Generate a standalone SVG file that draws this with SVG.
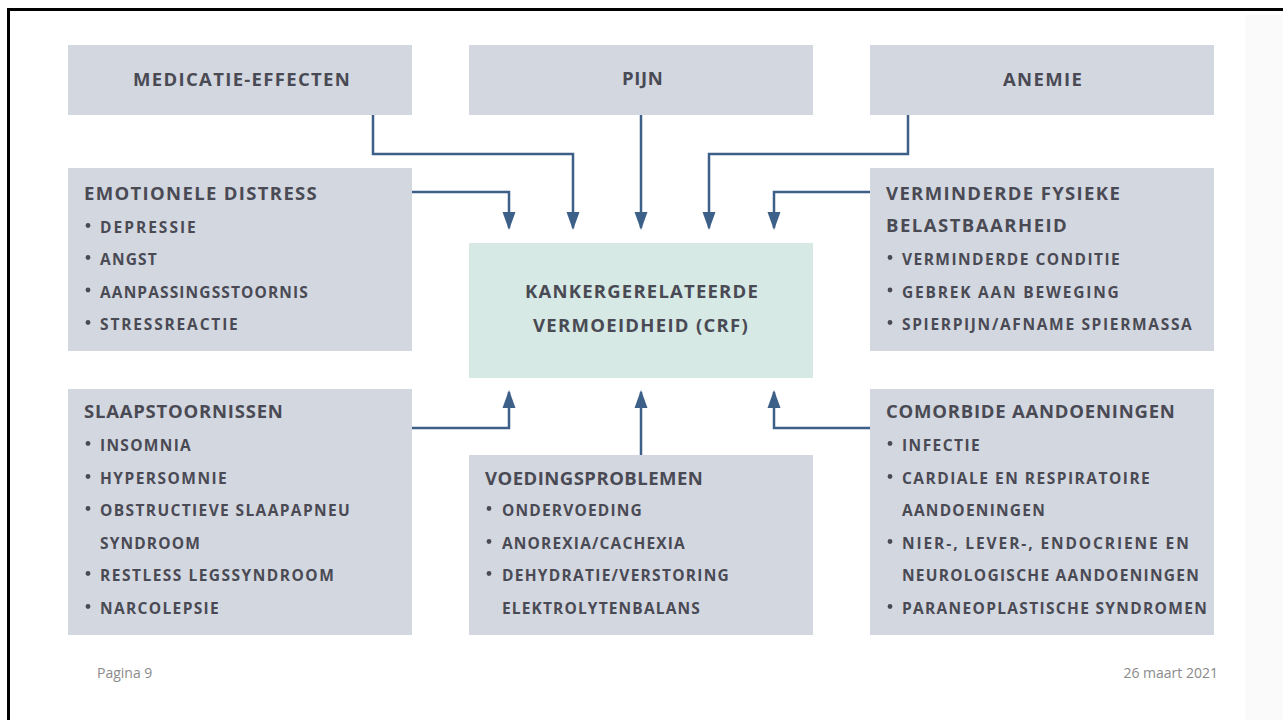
<svg xmlns="http://www.w3.org/2000/svg" width="1283" height="720" viewBox="0 0 1283 720">
<style>
.box{fill:#d3d7e0}
.core{fill:#d6e9e4}
.t{font-family:"Open Sans","Noto Sans","Liberation Sans",sans-serif;font-weight:700;fill:#4a4a54;font-size:18.5px;letter-spacing:1.2px}
.i{font-family:"Open Sans","Noto Sans","Liberation Sans",sans-serif;font-weight:700;fill:#4a4a54;font-size:15.5px;letter-spacing:1.2px}
.b{fill:#4a4a54}
.con{fill:none;stroke:#3d6089;stroke-width:2.5;marker-end:url(#ah)}
.foot{font-family:"Open Sans","Noto Sans","Liberation Sans",sans-serif;fill:#8a8a8a;font-size:14px}
</style>
<defs>
<marker id="ah" markerUnits="userSpaceOnUse" markerWidth="18" markerHeight="14" refX="16" refY="7" orient="auto">
<path d="M0,0.5 L18,7 L0,13.5 z" fill="#3d6089"/>
</marker>
</defs>
<rect x="0" y="0" width="1283" height="720" fill="#ffffff"/>
<rect x="1245" y="15" width="38" height="705" fill="#fafafa"/>
<rect x="8.5" y="9.5" width="1300" height="730" fill="none" stroke="#000" stroke-width="3"/>

<g id="connectors">
<path class="con" d="M373,115 V154 H573 V228"/>
<path class="con" d="M412,192 H509 V228"/>
<path class="con" d="M641,115 V228"/>
<path class="con" d="M908,115 V154 H709 V228"/>
<path class="con" d="M870,192 H774 V228"/>
<path class="con" d="M412,428 H509 V392"/>
<path class="con" d="M641,455 V392"/>
<path class="con" d="M870,428 H774 V392"/>
</g>

<g id="medicatie">
<rect class="box" x="68" y="45" width="344" height="70"/>
<text class="t" x="133" y="86" textLength="218" lengthAdjust="spacing">MEDICATIE-EFFECTEN</text>
</g>
<g id="pijn">
<rect class="box" x="469" y="45" width="344" height="70"/>
<text class="t" x="622" y="85" textLength="42" lengthAdjust="spacing">PIJN</text>
</g>
<g id="anemie">
<rect class="box" x="870" y="45" width="344" height="70"/>
<text class="t" x="1003" y="86" textLength="80" lengthAdjust="spacing">ANEMIE</text>
</g>

<g id="emotionele">
<rect class="box" x="68" y="168" width="344" height="183"/>
<text class="t" x="84" y="200" textLength="234" lengthAdjust="spacing">EMOTIONELE DISTRESS</text>
<circle class="b" cx="88" cy="225.5" r="2.4"/><text class="i" x="100" y="233" textLength="97" lengthAdjust="spacing">DEPRESSIE</text>
<circle class="b" cx="88" cy="257.5" r="2.4"/><text class="i" x="100" y="265" textLength="58" lengthAdjust="spacing">ANGST</text>
<circle class="b" cx="88" cy="290" r="2.4"/><text class="i" x="100" y="297.5" textLength="209" lengthAdjust="spacing">AANPASSINGSSTOORNIS</text>
<circle class="b" cx="88" cy="322.5" r="2.4"/><text class="i" x="100" y="330" textLength="139" lengthAdjust="spacing">STRESSREACTIE</text>
</g>

<g id="crf">
<rect class="core" x="469" y="243" width="344" height="135"/>
<text class="t" x="525" y="298" textLength="234" lengthAdjust="spacing">KANKERGERELATEERDE</text>
<text class="t" x="533" y="332" textLength="216" lengthAdjust="spacing">VERMOEIDHEID (CRF)</text>
</g>

<g id="fysiek">
<rect class="box" x="870" y="168" width="344" height="183"/>
<text class="t" x="886" y="200" textLength="235" lengthAdjust="spacing">VERMINDERDE FYSIEKE</text>
<text class="t" x="886" y="232" textLength="182" lengthAdjust="spacing">BELASTBAARHEID</text>
<circle class="b" cx="890" cy="257.5" r="2.4"/><text class="i" x="902" y="265" textLength="219" lengthAdjust="spacing">VERMINDERDE CONDITIE</text>
<circle class="b" cx="890" cy="290" r="2.4"/><text class="i" x="902" y="297.5" textLength="218" lengthAdjust="spacing">GEBREK AAN BEWEGING</text>
<circle class="b" cx="890" cy="322.5" r="2.4"/><text class="i" x="902" y="330" textLength="291" lengthAdjust="spacing">SPIERPIJN/AFNAME SPIERMASSA</text>
</g>

<g id="slaap">
<rect class="box" x="68" y="389" width="344" height="246"/>
<text class="t" x="84" y="418" textLength="200" lengthAdjust="spacing">SLAAPSTOORNISSEN</text>
<circle class="b" cx="88" cy="443.5" r="2.4"/><text class="i" x="100" y="451" textLength="92" lengthAdjust="spacing">INSOMNIA</text>
<circle class="b" cx="88" cy="476.5" r="2.4"/><text class="i" x="100" y="484" textLength="128" lengthAdjust="spacing">HYPERSOMNIE</text>
<circle class="b" cx="88" cy="508.5" r="2.4"/><text class="i" x="100" y="516" textLength="251" lengthAdjust="spacing">OBSTRUCTIEVE SLAAPAPNEU</text>
<text class="i" x="100" y="549" textLength="101" lengthAdjust="spacing">SYNDROOM</text>
<circle class="b" cx="88" cy="573.5" r="2.4"/><text class="i" x="100" y="581" textLength="235" lengthAdjust="spacing">RESTLESS LEGSSYNDROOM</text>
<circle class="b" cx="88" cy="606.5" r="2.4"/><text class="i" x="100" y="614" textLength="120" lengthAdjust="spacing">NARCOLEPSIE</text>
</g>

<g id="voeding">
<rect class="box" x="469" y="455" width="344" height="180"/>
<text class="t" x="485" y="485" textLength="219" lengthAdjust="spacing">VOEDINGSPROBLEMEN</text>
<circle class="b" cx="489" cy="508.5" r="2.4"/><text class="i" x="502" y="516" textLength="141" lengthAdjust="spacing">ONDERVOEDING</text>
<circle class="b" cx="489" cy="541.5" r="2.4"/><text class="i" x="502" y="549" textLength="184" lengthAdjust="spacing">ANOREXIA/CACHEXIA</text>
<circle class="b" cx="489" cy="573.5" r="2.4"/><text class="i" x="502" y="581" textLength="228" lengthAdjust="spacing">DEHYDRATIE/VERSTORING</text>
<text class="i" x="502" y="614" textLength="199" lengthAdjust="spacing">ELEKTROLYTENBALANS</text>
</g>

<g id="comorbide">
<rect class="box" x="870" y="389" width="344" height="246"/>
<text class="t" x="886" y="418" textLength="290" lengthAdjust="spacing">COMORBIDE AANDOENINGEN</text>
<circle class="b" cx="890" cy="443.5" r="2.4"/><text class="i" x="902" y="451" textLength="79" lengthAdjust="spacing">INFECTIE</text>
<circle class="b" cx="890" cy="476.5" r="2.4"/><text class="i" x="902" y="484" textLength="249" lengthAdjust="spacing">CARDIALE EN RESPIRATOIRE</text>
<text class="i" x="902" y="516" textLength="144" lengthAdjust="spacing">AANDOENINGEN</text>
<circle class="b" cx="890" cy="541.5" r="2.4"/><text class="i" x="902" y="549" textLength="288" lengthAdjust="spacing">NIER-, LEVER-, ENDOCRIENE EN</text>
<text class="i" x="902" y="581" textLength="298" lengthAdjust="spacing">NEUROLOGISCHE AANDOENINGEN</text>
<circle class="b" cx="890" cy="606.5" r="2.4"/><text class="i" x="902" y="614" textLength="306" lengthAdjust="spacing">PARANEOPLASTISCHE SYNDROMEN</text>
</g>

<text class="foot" x="97" y="678">Pagina 9</text>
<text class="foot" x="1218" y="678" text-anchor="end">26 maart 2021</text>
</svg>
